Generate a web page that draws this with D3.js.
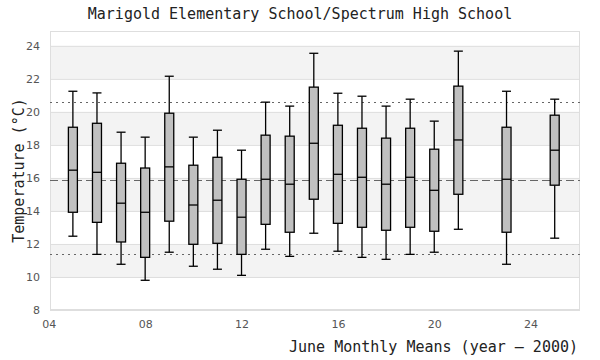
<!DOCTYPE html>
<html>
<head>
<meta charset="utf-8">
<script src="https://cdn.jsdelivr.net/npm/d3@7"></script>
<style>
  body { margin: 0; background: #fff; }
  svg { display: block; }
</style>
</head>
<body>
<svg id="chart" width="600" height="360"></svg>
<script>
// June monthly means per year (year - 2000)
const years = [5, 6, 7, 8, 9, 10, 11, 12, 13, 14, 15, 16, 17, 18, 19, 20, 21, 23, 25];
const whiskerHigh = [21.25, 21.15, 18.77, 18.47, 22.16, 18.47, 18.89, 17.68, 20.59, 20.35, 23.55, 21.13, 20.95, 20.35, 20.77, 19.44, 23.68, 21.25, 20.77];
const q3 = [19.07, 19.31, 16.89, 16.6, 19.92, 16.77, 17.25, 15.92, 18.59, 18.53, 21.5, 19.19, 19.01, 18.41, 19.01, 17.74, 21.56, 19.07, 19.8];
const median = [16.47, 16.34, 14.47, 13.92, 16.67, 14.36, 14.65, 13.62, 15.92, 15.62, 18.1, 16.22, 16.04, 15.62, 16.04, 15.25, 18.3, 15.92, 17.68];
const q1 = [13.92, 13.31, 12.12, 11.19, 13.38, 11.98, 12.04, 11.37, 13.19, 12.71, 14.71, 13.25, 13.01, 12.83, 13.01, 12.77, 15.01, 12.71, 15.56];
const whiskerLow = [12.47, 11.37, 10.77, 9.8, 11.5, 10.65, 10.47, 10.1, 11.68, 11.25, 12.65, 11.56, 11.19, 11.07, 11.37, 11.5, 12.89, 10.77, 12.35];

// overall mean and limits
const refMean = 15.86;
const refUpper = 20.59;
const refLower = 11.38;

const xTicks = [4, 8, 12, 16, 20, 24];
const yTicks = [8, 10, 12, 14, 16, 18, 20, 22, 24];

const margin = {top: 31, right: 20, bottom: 50, left: 50};
const width = 600, height = 360;
const svg = d3.select('#chart');

const x = d3.scaleLinear().domain([4.05, 26.05]).range([margin.left, width - margin.right]);
const y = d3.scaleLinear().domain([8, 24.9]).range([height - margin.bottom, margin.top]);

const mono = '"DejaVu Sans Mono", monospace';

// plot background with alternating bands
svg.append('rect')
    .attr('x', x.range()[0]).attr('y', y.range()[1])
    .attr('width', x.range()[1] - x.range()[0])
    .attr('height', y.range()[0] - y.range()[1])
    .attr('fill', '#fff');

const bands = [[10, 12], [14, 16], [18, 20], [22, 24]];
svg.selectAll('.band')
    .data(bands)
    .enter().append('rect')
    .attr('class', 'band')
    .attr('x', x.range()[0])
    .attr('width', x.range()[1] - x.range()[0])
    .attr('y', d => y(d[1]))
    .attr('height', d => y(d[0]) - y(d[1]))
    .attr('fill', '#f3f3f3');

// y grid
const yAxis = svg.append('g')
    .attr('transform', `translate(${x.range()[0]},0)`)
    .call(d3.axisLeft(y).tickValues(yTicks).tickSize(-(x.range()[1] - x.range()[0])).tickPadding(10));
yAxis.select('.domain').remove();
yAxis.selectAll('.tick line').attr('stroke', '#dedede');
yAxis.selectAll('.tick text')
    .attr('fill', '#555')
    .style('font-family', '"DejaVu Sans", sans-serif')
    .style('font-size', '11px');

// plot frame
svg.append('rect')
    .attr('x', x.range()[0] + 0.5).attr('y', y.range()[1] + 0.5)
    .attr('width', x.range()[1] - x.range()[0] - 1)
    .attr('height', y.range()[0] - y.range()[1] - 1)
    .attr('fill', 'none')
    .attr('stroke', '#dedede');

// x axis
const xAxis = svg.append('g')
    .attr('transform', `translate(0,${y.range()[0]})`)
    .call(d3.axisBottom(x).tickValues(xTicks).tickSize(0).tickPadding(10)
        .tickFormat(d => String(d).padStart(2, '0')));
xAxis.select('.domain').remove();
xAxis.selectAll('.tick text')
    .attr('fill', '#555')
    .style('font-family', '"DejaVu Sans", sans-serif')
    .style('font-size', '11px');

// reference lines
const refs = [
    {v: refUpper, dash: '2,4'},
    {v: refMean, dash: '8,4'},
    {v: refLower, dash: '2,4'}
];
svg.selectAll('.ref')
    .data(refs)
    .enter().append('line')
    .attr('x1', x.range()[0]).attr('x2', x.range()[1])
    .attr('y1', d => Math.round(y(d.v)) + 0.5).attr('y2', d => Math.round(y(d.v)) + 0.5)
    .attr('stroke', '#666')
    .attr('stroke-width', 1)
    .attr('stroke-dasharray', d => d.dash);

// boxes
const boxes = years.map((yr, i) => ({
    yr, hi: whiskerHigh[i], q3: q3[i], med: median[i], q1: q1[i], lo: whiskerLow[i]
}));
const bw = 9;
const g = svg.selectAll('.box')
    .data(boxes)
    .enter().append('g')
    .attr('class', 'box')
    .attr('stroke', '#000')
    .attr('stroke-width', 1.3);

g.append('line')
    .attr('x1', d => x(d.yr)).attr('x2', d => x(d.yr))
    .attr('y1', d => y(d.hi)).attr('y2', d => y(d.q3));
g.append('line')
    .attr('x1', d => x(d.yr)).attr('x2', d => x(d.yr))
    .attr('y1', d => y(d.q1)).attr('y2', d => y(d.lo));
g.append('line')
    .attr('x1', d => x(d.yr) - bw / 2).attr('x2', d => x(d.yr) + bw / 2)
    .attr('y1', d => y(d.hi)).attr('y2', d => y(d.hi));
g.append('line')
    .attr('x1', d => x(d.yr) - bw / 2).attr('x2', d => x(d.yr) + bw / 2)
    .attr('y1', d => y(d.lo)).attr('y2', d => y(d.lo));
g.append('rect')
    .attr('x', d => x(d.yr) - bw / 2)
    .attr('width', bw)
    .attr('y', d => y(d.q3))
    .attr('height', d => y(d.q1) - y(d.q3))
    .attr('fill', '#c0c0c0');
g.append('line')
    .attr('x1', d => x(d.yr) - bw / 2).attr('x2', d => x(d.yr) + bw / 2)
    .attr('y1', d => y(d.med)).attr('y2', d => y(d.med));

// titles
svg.append('text')
    .attr('x', 300).attr('y', 19)
    .attr('text-anchor', 'middle')
    .style('font-family', mono)
    .style('font-size', '15px')
    .attr('fill', '#222')
    .text('Marigold Elementary School/Spectrum High School');

svg.append('text')
    .attr('x', 578).attr('y', 352)
    .attr('text-anchor', 'end')
    .style('font-family', mono)
    .style('font-size', '15px')
    .attr('fill', '#222')
    .text('June Monthly Means (year – 2000)');

svg.append('text')
    .attr('transform', `translate(24,${(y.range()[0] + y.range()[1]) / 2}) rotate(-90)`)
    .attr('text-anchor', 'middle')
    .style('font-family', mono)
    .style('font-size', '15px')
    .attr('fill', '#222')
    .text('Temperature (°C)');
</script>
</body>
</html>
